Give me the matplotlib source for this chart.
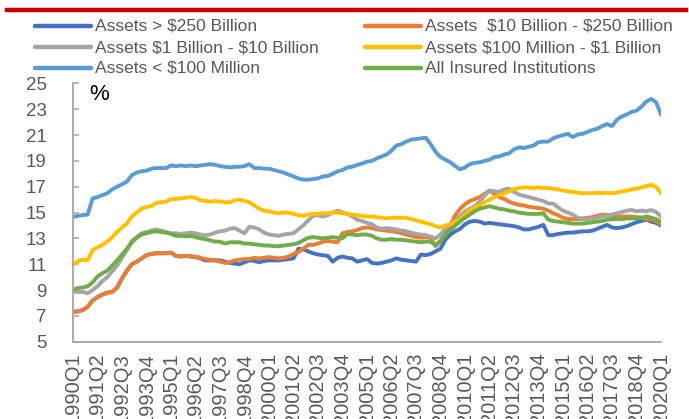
import matplotlib
matplotlib.use("Agg")
import matplotlib.pyplot as plt
from matplotlib.lines import Line2D
import pandas as pd

# ---------------- data (percent) ----------------
quarters = [str(p) for p in pd.period_range("1990Q1", "2020Q1", freq="Q")]
tick_labels = quarters[::5]

series_names = [
    "Assets > $250 Billion",
    "Assets  $10 Billion - $250 Billion",
    "Assets $1 Billion - $10 Billion",
    "Assets $100 Million - $1 Billion",
    "Assets < $100 Million",
    "All Insured Institutions",
]

assets_gt_250b = [
    7.3, 7.35, 7.45, 7.7, 8.2, 8.45, 8.65, 8.8, 8.85, 9.2,
    9.9, 10.5, 11.0, 11.2, 11.45, 11.7, 11.8, 11.85, 11.85, 11.85,
    11.9, 11.65, 11.6, 11.65, 11.6, 11.55, 11.45, 11.3, 11.3, 11.3,
    11.3, 11.2, 11.1, 11.05, 11.0, 11.15, 11.3, 11.25, 11.15, 11.25,
    11.3, 11.3, 11.3, 11.35, 11.4, 11.45, 12.2, 12.15, 12.0, 11.85,
    11.75, 11.7, 11.65, 11.2, 11.5, 11.6, 11.5, 11.45, 11.2, 11.3,
    11.4, 11.1, 11.05, 11.1, 11.2, 11.3, 11.45, 11.35, 11.3, 11.25,
    11.2, 11.75, 11.7, 11.8, 12.0, 12.2, 12.9, 13.3, 13.55, 13.75,
    14.1, 14.3, 14.35, 14.3, 14.15, 14.2, 14.15, 14.1, 14.05, 14.0,
    13.95, 13.85, 13.7, 13.7, 13.8, 13.9, 14.05, 13.25, 13.25, 13.35,
    13.4, 13.45, 13.45, 13.5, 13.55, 13.55, 13.6, 13.75, 13.9, 14.05,
    13.85, 13.8, 13.85, 13.95, 14.1, 14.25, 14.35, 14.45, 14.3, 14.2,
    14.0,
]

assets_10b_250b = [
    7.3, 7.35, 7.45, 7.7, 8.2, 8.45, 8.65, 8.8, 8.85, 9.2,
    9.9, 10.5, 11.0, 11.2, 11.45, 11.7, 11.8, 11.85, 11.85, 11.85,
    11.9, 11.65, 11.6, 11.65, 11.6, 11.6, 11.5, 11.4, 11.35, 11.3,
    11.2, 11.1, 11.15, 11.3, 11.35, 11.4, 11.4, 11.5, 11.45, 11.5,
    11.55, 11.5, 11.45, 11.5, 11.6, 11.8, 11.95, 12.2, 12.5, 12.5,
    12.6, 12.75, 12.8, 12.75, 12.7, 13.4, 13.5, 13.55, 13.65, 13.8,
    13.85, 13.8, 13.7, 13.65, 13.6, 13.55, 13.5, 13.4, 13.3, 13.2,
    13.1, 13.05, 13.1, 13.05, 12.4, 12.8, 13.3, 14.0, 14.8, 15.3,
    15.65, 15.9, 16.05, 16.2, 16.45, 16.7, 16.45, 16.2, 16.05, 15.85,
    15.7, 15.6, 15.55, 15.45, 15.4, 15.35, 15.3, 15.15, 14.95, 14.8,
    14.6, 14.5, 14.5, 14.5, 14.55, 14.6, 14.65, 14.75, 14.85, 14.8,
    14.75, 14.7, 14.7, 14.7, 14.7, 14.65, 14.6, 14.5, 14.45, 14.35,
    14.1,
]

assets_1b_10b = [
    8.9, 8.85, 8.85, 8.75, 9.0, 9.3, 9.7, 10.0, 10.45, 10.9,
    11.5, 12.1, 12.8, 13.1, 13.4, 13.5, 13.6, 13.7, 13.6, 13.5,
    13.4, 13.4, 13.35, 13.4, 13.45, 13.4, 13.3, 13.25, 13.3, 13.45,
    13.55, 13.6, 13.75, 13.8, 13.6, 13.4, 13.9, 13.85, 13.7, 13.45,
    13.3, 13.25, 13.2, 13.3, 13.35, 13.4, 13.7, 14.0, 14.4, 14.75,
    14.8, 14.7, 14.8, 15.0, 15.15, 15.0, 14.9, 14.7, 14.45, 14.35,
    14.2, 14.1, 13.85, 13.75, 13.8, 13.75, 13.7, 13.6, 13.55, 13.45,
    13.35, 13.3, 13.25, 13.15, 13.0, 13.3, 13.75, 14.1, 14.4, 14.75,
    15.1, 15.3, 15.5, 15.85, 16.3, 16.7, 16.65, 16.6, 16.8, 16.85,
    16.6, 16.4, 16.3, 16.2, 16.1, 16.0, 15.9, 15.7, 15.7, 15.4,
    15.15, 15.0, 14.85, 14.6, 14.5, 14.5, 14.55, 14.6, 14.7, 14.75,
    14.85, 14.95, 15.05, 15.15, 15.2, 15.1, 15.15, 15.1, 15.2, 15.05,
    14.7,
]

assets_100m_1b = [
    10.95, 11.25, 11.35, 11.3, 12.1, 12.3, 12.5, 12.75, 13.1, 13.5,
    13.85, 14.15, 14.7, 15.0, 15.3, 15.45, 15.5, 15.75, 15.8, 15.85,
    16.05, 16.05, 16.1, 16.15, 16.2, 16.15, 15.95, 15.9, 15.85, 15.9,
    15.85, 15.8, 15.8, 15.95, 16.0, 15.9, 15.8, 15.55, 15.3, 15.15,
    15.1, 15.0, 14.95, 15.0, 15.0, 14.9, 14.8, 14.75, 14.85, 14.9,
    14.9, 14.95, 14.95, 15.0, 15.0, 14.95, 14.9, 14.85, 14.8, 14.75,
    14.7, 14.7, 14.65, 14.6, 14.55, 14.6, 14.6, 14.6, 14.6, 14.5,
    14.4, 14.3, 14.2, 14.1, 13.95, 13.85, 14.0, 14.1, 14.3, 14.5,
    14.85, 15.2, 15.4, 15.6, 15.8, 16.0, 16.2, 16.35, 16.5, 16.65,
    16.8, 16.9, 16.95, 16.95, 16.9, 16.95, 16.9, 16.9, 16.85, 16.8,
    16.7, 16.65, 16.6, 16.55, 16.5, 16.5, 16.5, 16.55, 16.5, 16.55,
    16.5, 16.55, 16.65, 16.7, 16.8, 16.85, 16.95, 17.05, 17.15, 17.0,
    16.5,
]

assets_lt_100m = [
    14.65, 14.75, 14.8, 14.85, 16.1, 16.2, 16.35, 16.5, 16.8, 17.0,
    17.2, 17.4, 17.9, 18.1, 18.2, 18.25, 18.4, 18.45, 18.45, 18.45,
    18.65, 18.6, 18.65, 18.6, 18.65, 18.6, 18.65, 18.7, 18.75, 18.7,
    18.6, 18.55, 18.5, 18.55, 18.55, 18.6, 18.75, 18.45, 18.45, 18.4,
    18.4, 18.3, 18.2, 18.1, 17.95, 17.8, 17.65, 17.55, 17.55, 17.6,
    17.65, 17.8, 17.85, 18.0, 18.2, 18.3, 18.5, 18.55, 18.7, 18.8,
    18.95, 19.0, 19.2, 19.35, 19.5, 19.8, 20.2, 20.3, 20.5, 20.65,
    20.7, 20.75, 20.8, 20.3, 19.7, 19.3, 19.1, 18.9, 18.6, 18.35,
    18.5, 18.75, 18.85, 18.9, 19.0, 19.1, 19.3, 19.35, 19.5, 19.6,
    19.9, 20.05, 20.0, 20.1, 20.2, 20.45, 20.5, 20.5, 20.75, 20.9,
    21.0, 21.1, 20.85, 21.05, 21.1, 21.25, 21.4, 21.5, 21.7, 21.85,
    21.7, 22.2, 22.45, 22.6, 22.8, 22.9, 23.2, 23.6, 23.8, 23.55,
    22.6,
]

all_insured = [
    9.05, 9.15, 9.2, 9.3, 9.6, 10.05, 10.3, 10.5, 10.9, 11.3,
    11.75, 12.2, 12.7, 13.05, 13.3, 13.4, 13.5, 13.55, 13.5, 13.45,
    13.35, 13.2, 13.2, 13.15, 13.2, 13.1, 13.0, 12.95, 12.85, 12.75,
    12.75, 12.6, 12.7, 12.7, 12.7, 12.6, 12.6, 12.55, 12.5, 12.45,
    12.45, 12.4, 12.4, 12.45, 12.5, 12.55, 12.65, 12.85, 13.05, 13.1,
    13.05, 13.0, 13.05, 13.1, 13.05, 13.0, 13.35, 13.3, 13.25, 13.3,
    13.3, 13.2, 13.0, 12.9, 12.9, 12.95, 12.9, 12.9, 12.85, 12.8,
    12.75, 12.7, 12.75, 12.75, 12.45, 12.8, 13.3, 13.65, 14.0, 14.3,
    14.6, 14.85, 15.1, 15.3, 15.4, 15.5, 15.4, 15.3, 15.25, 15.15,
    15.1, 15.0, 14.95, 14.9, 14.9, 14.9, 14.95, 14.45, 14.35, 14.3,
    14.25, 14.2, 14.15, 14.15, 14.15, 14.2, 14.25, 14.3, 14.35, 14.45,
    14.5, 14.5, 14.5, 14.55, 14.55, 14.55, 14.6, 14.7, 14.6, 14.5,
    14.3,
]

series_values = [assets_gt_250b, assets_10b_250b, assets_1b_10b,
                 assets_100m_1b, assets_lt_100m, all_insured]
series_colors = ["#4472C4", "#ED7D31", "#A5A5A5", "#FFC000", "#5B9BD5", "#70AD47"]

# ---------------- figure ----------------
W, H = 689, 419
plt.rcParams["font.family"] = ["Liberation Sans", "DejaVu Sans"]
plt.rcParams["text.parse_math"] = False
fig = plt.figure(figsize=(W / 100, H / 100), dpi=100)

def px(x, y):
    return x / W, 1 - y / H

ax_left, ax_right, ax_top, ax_bottom = 73, 661, 83.5, 341.7
ax = fig.add_axes([ax_left / W, 1 - ax_bottom / H,
                   (ax_right - ax_left) / W, (ax_bottom - ax_top) / H])

xs = list(range(len(quarters)))
for vals, col, name in zip(series_values, series_colors, series_names):
    ax.plot(xs, vals, color=col, lw=2.8, solid_capstyle="round",
            solid_joinstyle="round", label=name)

ax.set_xlim(0, len(quarters) - 1)
ax.set_ylim(5, 25)
ax.set_yticks(range(5, 26, 2))
ax.set_xticks(xs[::5])
ax.set_xticklabels(tick_labels, rotation=90, va="top", ha="center")

axis_gray = "#A6A6A6"
text_gray = "#595959"
for s in ["top", "right"]:
    ax.spines[s].set_visible(False)
for s in ["left", "bottom"]:
    ax.spines[s].set_color(axis_gray)
    ax.spines[s].set_linewidth(1.3)
ax.tick_params(axis="y", direction="in", length=4, width=1.1, color=axis_gray,
               labelsize=13.5, labelcolor=text_gray, pad=19)
ax.tick_params(axis="x", length=0, labelsize=14.5, labelcolor=text_gray, pad=8)
ax.set_facecolor("white")

# "%" unit label
fig.text(*px(89, 94), "%", fontsize=16, color="black", ha="left", va="center")

# Red rule at top
fig.add_artist(Line2D([px(7, 0)[0], px(686, 0)[0]], [px(0, 10)[1]] * 2,
                      color="#D00000", lw=3.2))

# Legend (Excel style, row-major, two columns)
col_x = [35, 365]
row_y = [26.5, 47.5, 68.5]
for k, (name, col) in enumerate(zip(series_names, series_colors)):
    r, c = divmod(k, 2)
    x0 = col_x[c]
    y0 = row_y[r]
    fig.add_artist(Line2D([px(x0, 0)[0], px(x0 + 56, 0)[0]], [px(0, y0)[1]] * 2,
                          color=col, lw=3.2, solid_capstyle="round"))
    fig.text(*px(x0 + 60, y0), name, fontsize=12.5, color=text_gray,
             ha="left", va="center")

fig.savefig("out.png", dpi=100, facecolor="white")
